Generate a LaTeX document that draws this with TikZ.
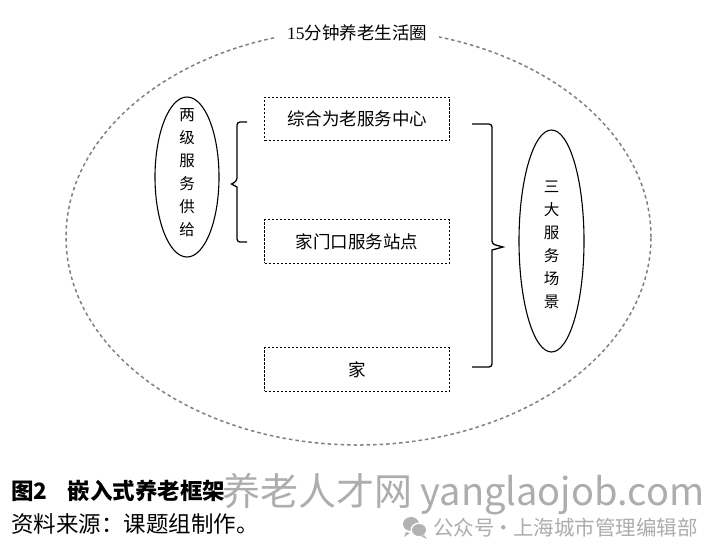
\documentclass[tikz,border=0pt]{standalone}
\usepackage{fontspec}
\newfontfamily\cjk{Noto Sans CJK SC}
\newfontfamily\serifnum{Liberation Serif}
\usetikzlibrary{shapes.geometric}
\begin{document}
\begin{tikzpicture}[x=1pt,y=-1pt,
  every node/.style={font=\cjk},
  dashbox/.style={draw=black, line width=0.9pt, dash pattern=on 2.4pt off 1.6pt,
    minimum width=185pt, minimum height=43.5pt, inner sep=0pt,
    font=\cjk\fontsize{17.5}{20}\selectfont},
  oval/.style={draw=black, line width=1.1pt, ellipse, inner sep=0pt},
  vtext/.style={align=center, inner sep=0pt, font=\cjk\fontsize{15.5}{23}\selectfont},
  brace/.style={draw=black, line width=1.3pt, rounded corners=3pt},
  wm/.style={text=black!32, inner sep=0pt, anchor=west}
]
\useasboundingbox (0,0) rectangle (708,558);
\fill[white] (0,0) rectangle (708,558);

% outer dashed circle
\node[ellipse, draw=black!50, line width=1.5pt, dash pattern=on 3.5pt off 3pt,
  minimum width=585pt, minimum height=416pt, inner sep=0pt] (outer) at (358.5,237) {};
\node[fill=white, inner xsep=12pt, inner ysep=4pt, font=\cjk\fontsize{17.5}{20}\selectfont] (title) at (357,33)
  {{\serifnum 15}分钟养老生活圈};

% boxes
\node[dashbox] (b1) at (357,119) {综合为老服务中心};
\node[dashbox] (b2) at (357,241.5) {家门口服务站点};
\node[dashbox] (b3) at (357,369.5) {家};

% ellipses
\node[oval, minimum width=64pt, minimum height=160pt] (sup) at (187,177) {};
\node[vtext] (suptext) at (187,172.5) {两\\级\\服\\务\\供\\给};
\node[oval, minimum width=65pt, minimum height=222pt] (scn) at (551.5,241) {};
\node[vtext] (scntext) at (551.5,245) {三\\大\\服\\务\\场\\景};

% left brace
\draw[brace] (247,122) -- (237,122) -- (237,181) [rounded corners=0pt]-- (231.5,184) -- (237,187) [rounded corners=3pt]-- (237,242) -- (247,242);
% right brace
\draw[brace] (472,124) -- (492,124) -- (492,244) [rounded corners=0pt]-- (503,247) -- (492,250) [rounded corners=3pt]-- (492,367) -- (472,367);

% caption
\node[anchor=west, inner sep=0pt, font=\cjk\bfseries\fontsize{22.5}{26}\selectfont] (cap) at (11,491) {图2\hspace{0.9em}嵌入式养老框架};
\node[anchor=west, inner sep=0pt, font=\cjk\fontsize{22.5}{26}\selectfont] (src) at (11,524) {资料来源：课题组制作。};

% watermark
\node[wm, font=\cjk\fontsize{38}{40}\selectfont] (wm1) at (222,494) {养老人才网 yanglaojob.com};
\begin{scope}[black!30]
  \fill (411,524) ellipse [x radius=8pt, y radius=7pt];
  \fill (406,532) -- (404,537) -- (410,533) -- cycle;
  \fill[white] (419,530) ellipse [x radius=8.5pt, y radius=7.5pt];
  \fill (419,530) ellipse [x radius=7pt, y radius=6pt];
  \fill (424,535) -- (427,539) -- (421,536) -- cycle;
\end{scope}
\node[wm, font=\cjk\fontsize{20.5}{24}\selectfont] (wm2) at (433,528) {公众号\hspace{-1pt}·\hspace{-1pt}上海城市管理编辑部};
\end{tikzpicture}
\end{document}
